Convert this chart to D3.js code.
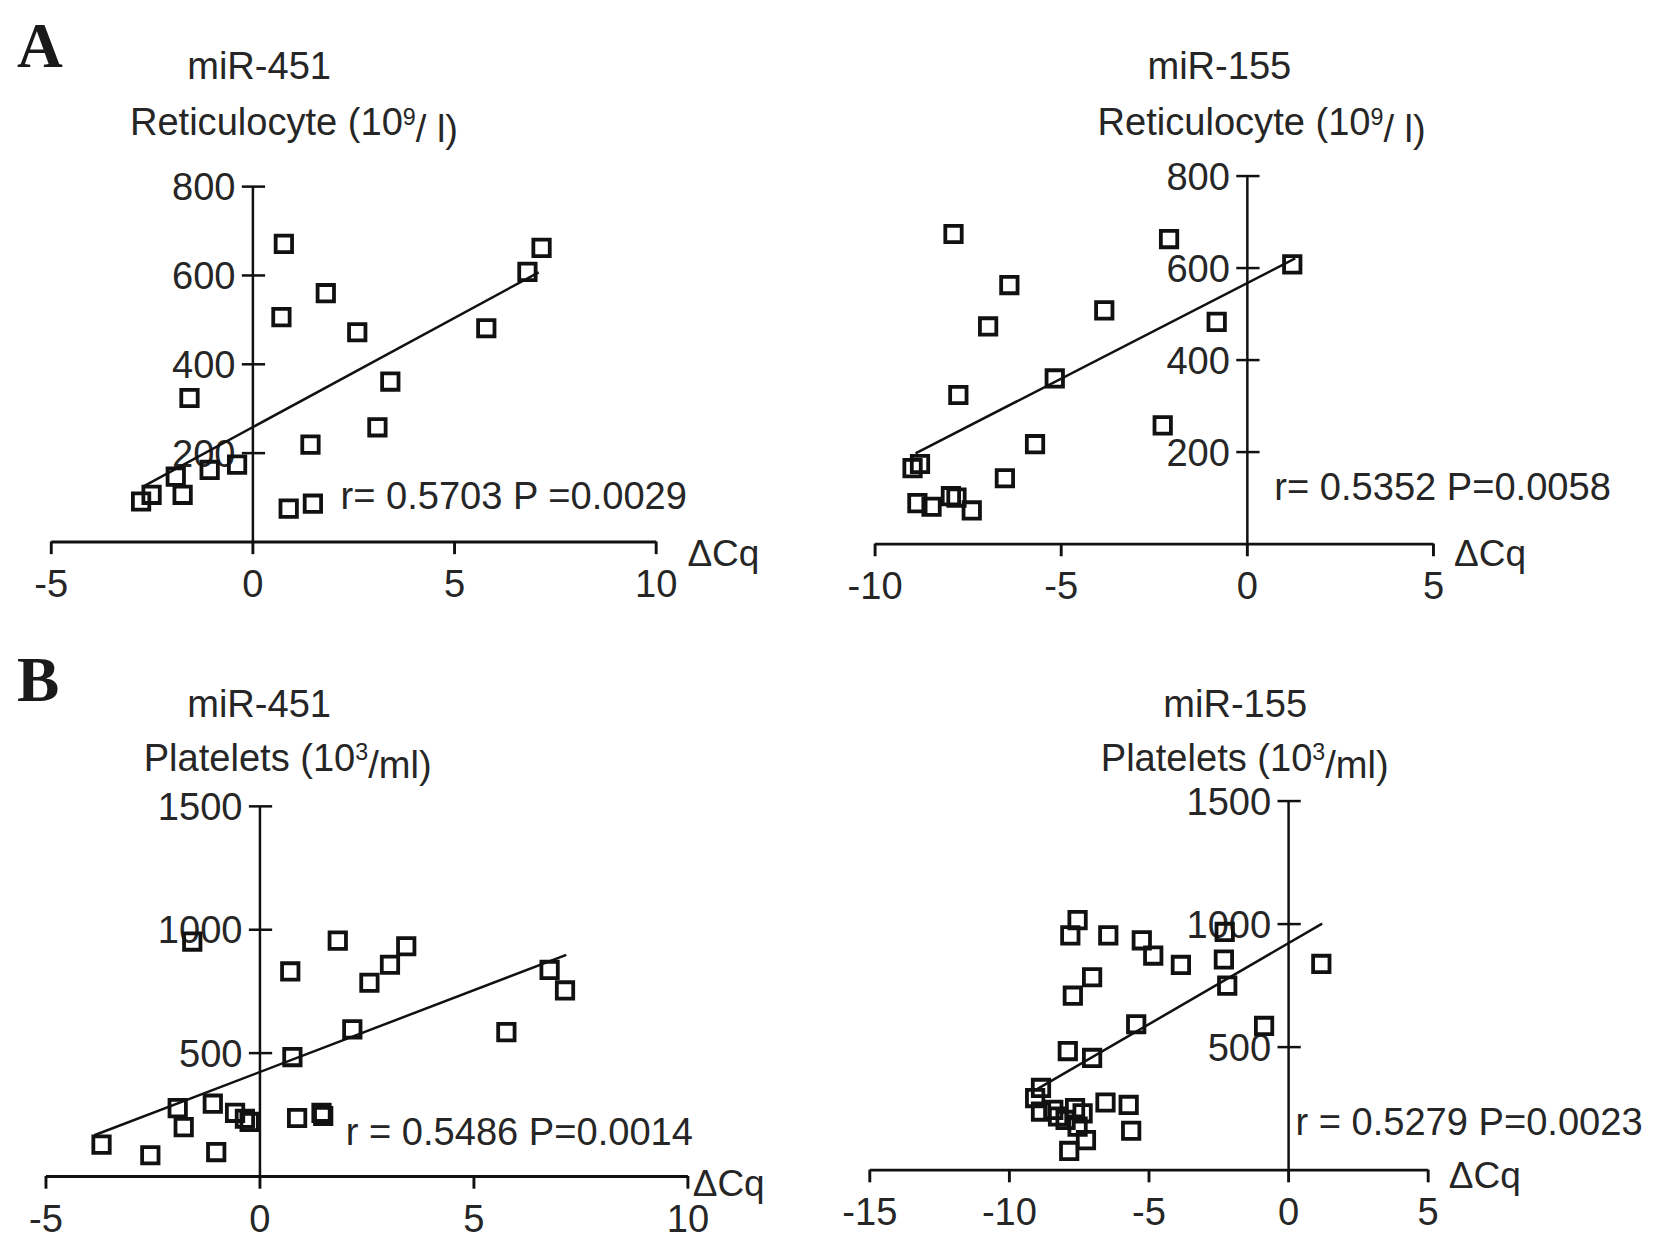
<!DOCTYPE html>
<html>
<head>
<meta charset="utf-8">
<script src="https://cdn.jsdelivr.net/npm/d3@7/dist/d3.min.js"></script>
<style>
  html, body { margin: 0; padding: 0; background: #fff; }
  svg { display: block; }
  text { font-family: "Liberation Sans", Arial, sans-serif; fill: #262626; }
</style>
</head>
<body>
<svg id="chart" width="1654" height="1249"></svg>
<script>
// ---------------- DATA ----------------
// Panel A left: miR-451 vs Reticulocyte
const retic451X = [0.78, 0.72, 1.82, 2.6, 5.8, 6.82, 7.17, 3.42, 3.1, 1.44, -1.56, -0.38, -1.06, -1.9, -1.73, -2.5, -2.76, 0.9, 1.5];
const retic451Y = [670, 505, 559, 471, 480, 607, 661, 360, 257, 218, 323, 173, 161, 146, 105, 105, 90, 74, 85];
const retic451Fit = { x: [-2.7, 7.1], y: [124, 606] };

// Panel A right: miR-155 vs Reticulocyte
const retic155X = [-7.88, -2.09, 1.22, -6.38, -3.83, -0.81, -6.95, -5.16, -7.75, -2.26, -5.69, -8.98, -8.78, -6.5, -7.95, -7.8, -8.85, -8.47, -7.39];
const retic155Y = [673, 662, 607, 562, 507, 482, 472, 359, 323, 257, 216, 164, 173, 142, 103, 100, 88, 80, 72];
const retic155Fit = { x: [-8.9, 1.3], y: [196, 620] };

// Panel B left: miR-451 vs Platelets
const plt451X = [-1.57, 1.83, 3.43, 3.05, 2.57, 0.72, 6.78, 7.14, 2.17, 5.77, 0.77, -1.91, -1.09, -1.77, -0.57, -0.34, -0.23, 0.88, 1.45, 1.49, -3.69, -2.55, -1.01];
const plt451Y = [950, 954, 931, 856, 783, 829, 835, 752, 594, 583, 482, 275, 293, 198, 256, 232, 219, 235, 256, 243, 127, 84, 97];
const plt451Fit = { x: [-3.86, 7.17], y: [165, 896] };

// Panel B right: miR-155 vs Platelets
const plt155X = [-7.54, -7.8, -6.44, -5.24, -4.83, -3.84, -2.27, -2.3, -2.18, 1.19, -7.02, -7.71, -5.44, -0.86, -7.89, -7.02, -8.85, -9.06, -8.85, -8.41, -8.24, -7.63, -7.36, -7.54, -7.24, -7.84, -6.54, -5.71, -5.62, -7.97];
const plt155Y = [1014, 952, 952, 932, 870, 832, 966, 854, 748, 836, 782, 707, 591, 584, 482, 454, 332, 291, 236, 243, 216, 250, 229, 175, 120, 76, 273, 263, 158, 202];
const plt155Fit = { x: [-9.02, 1.22], y: [325, 1000] };

// Tick values
const xTicksA1 = [-5, 0, 5, 10];
const xTicksA2 = [-10, -5, 0, 5];
const xTicksB1 = [-5, 0, 5, 10];
const xTicksB2 = [-15, -10, -5, 0, 5];
const yTicksRetic = [200, 400, 600, 800];
const yTicksPlt = [500, 1000, 1500];

// Texts
const panelLetters = ["A", "B"];
const geneLabels = ["miR-451", "miR-155", "miR-451", "miR-155"];
const statLabels = ["r= 0.5703 P =0.0029", "r= 0.5352 P=0.0058", "r = 0.5486 P=0.0014", "r = 0.5279 P=0.0023"];
const xAxisLabel = "ΔCq";

// ---------------- LAYOUT ----------------
const S = 1654 / 1564;   // layout measured at reduced scale
const svg = d3.select("#chart");
const FS = 36 * S;

const panels = [
  { xs: retic451X, ys: retic451Y, fit: retic451Fit, xDom: [-5, 10], xRange: [48, 620], yDom: [0, 800], yRange: [512, 176],
    xTicks: xTicksA1, yTicks: yTicksRetic, gene: geneLabels[0], geneX: 245, geneY: 75,
    unit: "Reticulocyte", sup: "9", unitTail: "/ l)", unitX: 278, unitY: 128,
    stat: statLabels[0], statX: 322, statY: 481, dcqX: 650, dcqY: 535 },
  { xs: retic155X, ys: retic155Y, fit: retic155Fit, xDom: [-10, 5], xRange: [827, 1355], yDom: [0, 800], yRange: [514, 166],
    xTicks: xTicksA2, yTicks: yTicksRetic, gene: geneLabels[1], geneX: 1153, geneY: 75,
    unit: "Reticulocyte", sup: "9", unitTail: "/ l)", unitX: 1193, unitY: 128,
    stat: statLabels[1], statX: 1205, statY: 473, dcqX: 1375, dcqY: 535 },
  { xs: plt451X, ys: plt451Y, fit: plt451Fit, xDom: [-5, 10], xRange: [43, 650], yDom: [0, 1500], yRange: [1112, 762],
    xTicks: xTicksB1, yTicks: yTicksPlt, gene: geneLabels[2], geneX: 245, geneY: 678,
    unit: "Platelets", sup: "3", unitTail: "/ml)", unitX: 272, unitY: 729,
    stat: statLabels[2], statX: 327, statY: 1083, dcqX: 655, dcqY: 1131 },
  { xs: plt155X, ys: plt155Y, fit: plt155Fit, xDom: [-15, 5], xRange: [822, 1350], yDom: [0, 1500], yRange: [1106, 757],
    xTicks: xTicksB2, yTicks: yTicksPlt, gene: geneLabels[3], geneX: 1168, geneY: 678,
    unit: "Platelets", sup: "3", unitTail: "/ml)", unitX: 1177, unitY: 729,
    stat: statLabels[3], statX: 1225, statY: 1073, dcqX: 1370, dcqY: 1123 }
];

// Panel letters
[[panelLetters[0], 63], [panelLetters[1], 663]].forEach(([L, yy]) => {
  svg.append("text").attr("x", 16 * S).attr("y", yy * S).text(L)
    .style("font-family", "'Liberation Serif', 'Times New Roman', serif").style("font-weight", "bold")
    .style("font-size", (60 * S) + "px").style("fill", "#1a1a1a");
});

panels.forEach(p => {
  const x = d3.scaleLinear().domain(p.xDom).range(p.xRange.map(v => v * S));
  const y = d3.scaleLinear().domain(p.yDom).range(p.yRange.map(v => v * S));
  const g = svg.append("g");

  // X axis
  const xAxis = d3.axisBottom(x).tickValues(p.xTicks).tickSize(12 * S).tickSizeOuter(0).tickPadding(15 * S)
    .tickFormat(d3.format("d"));
  const gx = g.append("g").attr("transform", `translate(0,${y(0)})`).call(xAxis);
  gx.selectAll("path.domain").attr("stroke", "#111").attr("stroke-width", 2.9);
  gx.selectAll(".tick line").attr("stroke", "#111").attr("stroke-width", 2.9);
  gx.selectAll(".tick text").style("font-size", FS + "px").style("font-family", "'Liberation Sans', Arial, sans-serif").attr("fill", "#262626")
    .text(d => d < 0 ? "-" + Math.abs(d) : d);

  // Y axis
  const yAxis = d3.axisLeft(y).tickValues(p.yTicks).tickSize(10 * S).tickSizeOuter(0).tickPadding(6 * S)
    .tickFormat(d3.format("d"));
  const gy = g.append("g").attr("transform", `translate(${x(0)},0)`).call(yAxis);
  gy.selectAll("path.domain").attr("stroke", "#111").attr("stroke-width", 2.5);
  gy.selectAll(".tick line").attr("stroke", "#111").attr("stroke-width", 2.5).attr("x1", -10 * S).attr("x2", 12 * S);
  gy.selectAll(".tick text").style("font-size", FS + "px").style("font-family", "'Liberation Sans', Arial, sans-serif").attr("fill", "#262626")
    .attr("dy", "0.36em");

  // Fit line
  g.append("line")
    .attr("x1", x(p.fit.x[0])).attr("y1", y(p.fit.y[0]))
    .attr("x2", x(p.fit.x[1])).attr("y2", y(p.fit.y[1]))
    .attr("stroke", "#111").attr("stroke-width", 2.5);

  // Points: open squares
  const pts = p.xs.map((v, i) => [v, p.ys[i]]);
  const side = 15.5 * S;
  const sq = d3.symbol().type(d3.symbolSquare).size(side * side);
  g.selectAll("path.pt").data(pts).join("path")
    .attr("class", "pt")
    .attr("d", sq)
    .attr("transform", d => `translate(${x(d[0])},${y(d[1])})`)
    .attr("fill", "none").attr("stroke", "#111").attr("stroke-width", 3.8);

  // Titles
  g.append("text").attr("x", p.geneX * S).attr("y", p.geneY * S).attr("text-anchor", "middle")
    .style("font-size", FS + "px").text(p.gene);
  const t = g.append("text").attr("x", p.unitX * S).attr("y", p.unitY * S).attr("text-anchor", "middle")
    .style("font-size", FS + "px");
  t.append("tspan").text(p.unit + " (10");
  t.append("tspan").text(p.sup).attr("dy", "-0.45em").style("font-size", (22 * S) + "px");
  t.append("tspan").text(p.unitTail).attr("dy", "0.45em");

  // Stats
  g.append("text").attr("x", p.statX * S).attr("y", p.statY * S).style("font-size", FS + "px").text(p.stat);
  // Axis label
  g.append("text").attr("x", p.dcqX * S).attr("y", p.dcqY * S).style("font-size", (35 * S) + "px").text(xAxisLabel);
});
</script>
</body>
</html>
